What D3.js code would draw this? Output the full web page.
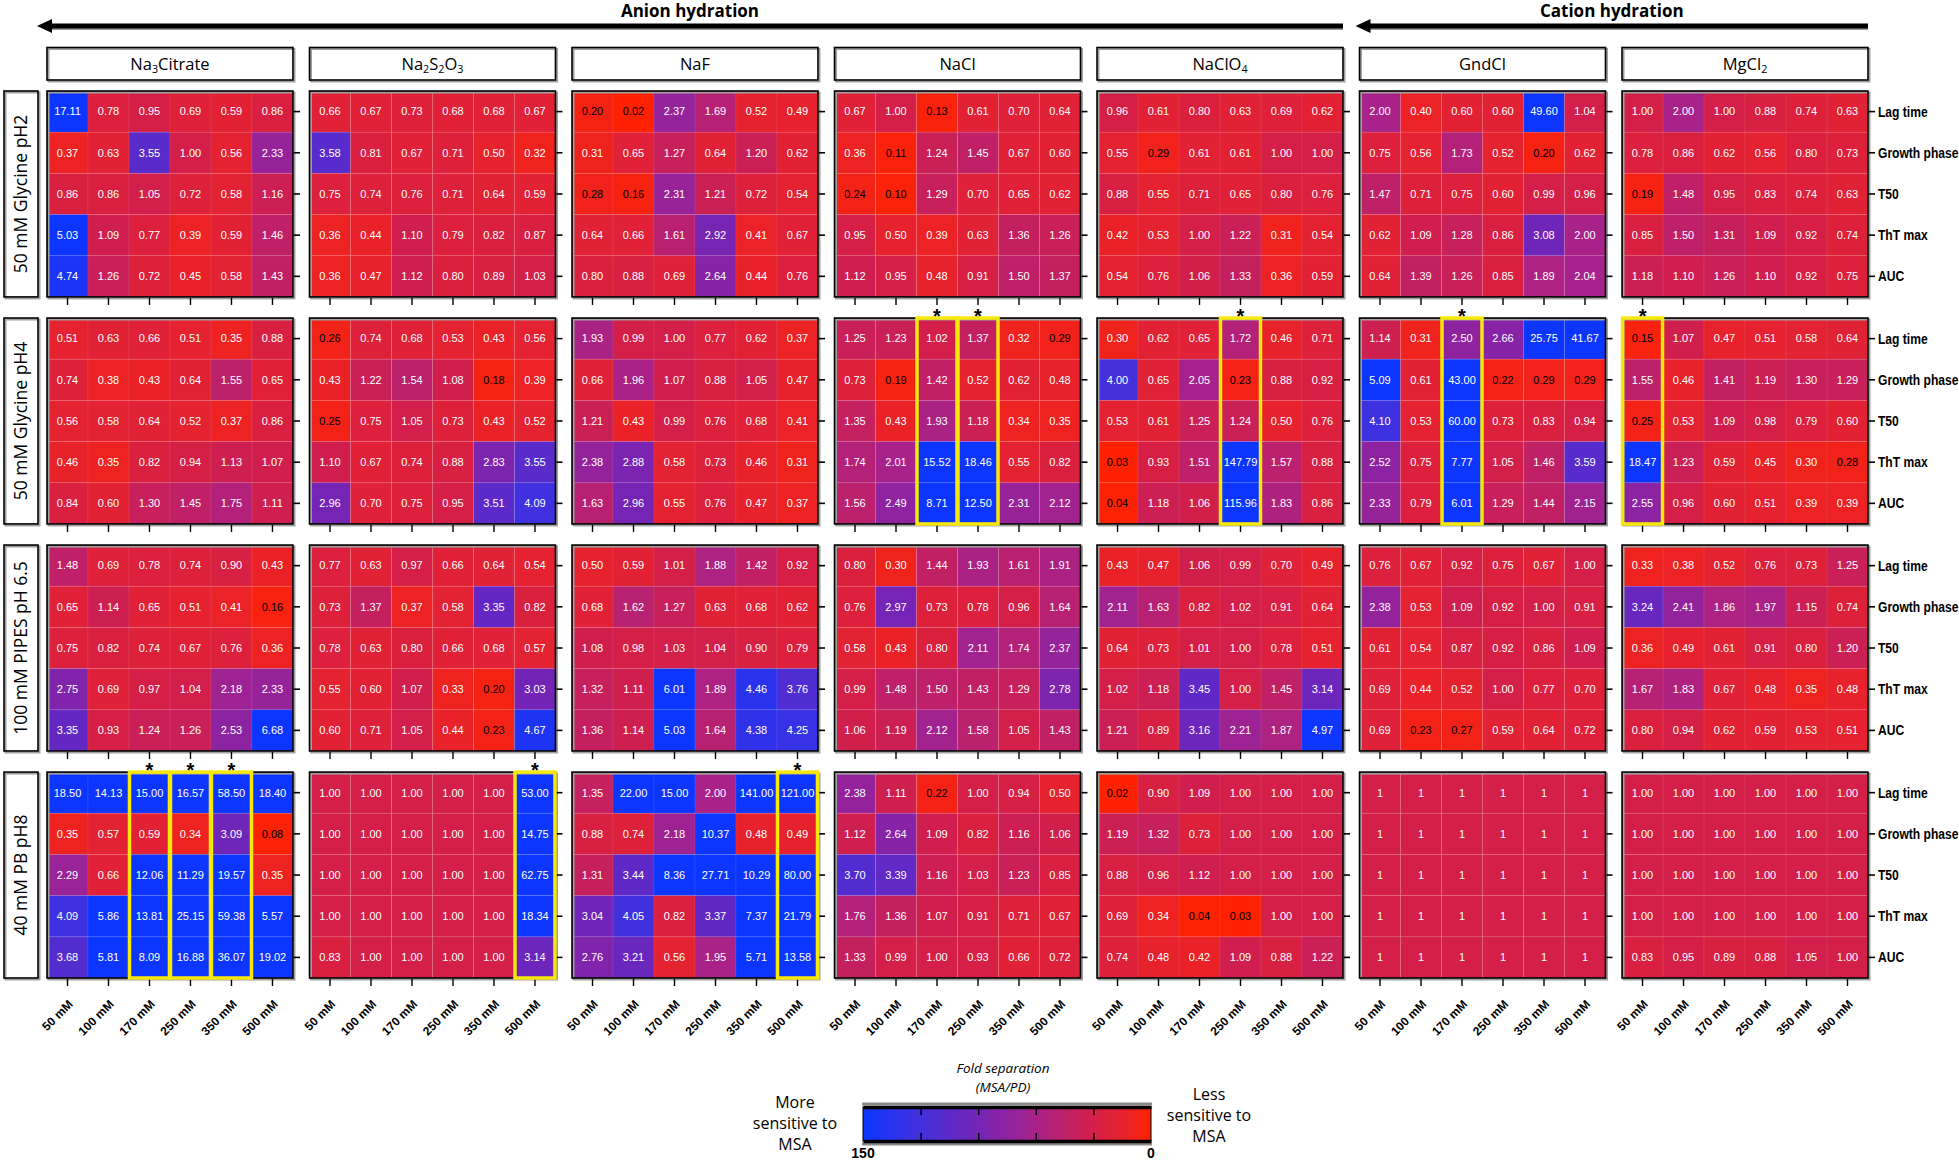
<!DOCTYPE html>
<html>
<head>
	<meta charset="utf-8">
	<title>Fold separation heatmaps</title>
	<script src="https://cdn.jsdelivr.net/npm/d3@7"></script>
	<style>
		body { margin: 0; background: #fff; }
	</style>
</head>
<body>
<script type="text/javascript">

	/*------ data ------*/

	var conditions = ["50 mM Glycine pH2", "50 mM Glycine pH4", "100 mM PIPES pH 6.5", "40 mM PB pH8"];
	var salts = ["Na3Citrate", "Na2S2O3", "NaF", "NaCl", "NaClO4", "GndCl", "MgCl2"];
	var metrics = ["Lag time", "Growth phase", "T50", "ThT max", "AUC"];
	var concentrations = ["50 mM", "100 mM", "170 mM", "250 mM", "350 mM", "500 mM"];

	// one block per salt, rows = metrics, columns = concentrations
	var glycinePH2 = [
		[[17.11, 0.78, 0.95, 0.69, 0.59, 0.86], [0.37, 0.63, 3.55, 1.00, 0.56, 2.33], [0.86, 0.86, 1.05, 0.72, 0.58, 1.16], [5.03, 1.09, 0.77, 0.39, 0.59, 1.46], [4.74, 1.26, 0.72, 0.45, 0.58, 1.43]],
		[[0.66, 0.67, 0.73, 0.68, 0.68, 0.67], [3.58, 0.81, 0.67, 0.71, 0.50, 0.32], [0.75, 0.74, 0.76, 0.71, 0.64, 0.59], [0.36, 0.44, 1.10, 0.79, 0.82, 0.87], [0.36, 0.47, 1.12, 0.80, 0.89, 1.03]],
		[[0.20, 0.02, 2.37, 1.69, 0.52, 0.49], [0.31, 0.65, 1.27, 0.64, 1.20, 0.62], [0.28, 0.16, 2.31, 1.21, 0.72, 0.54], [0.64, 0.66, 1.61, 2.92, 0.41, 0.67], [0.80, 0.88, 0.69, 2.64, 0.44, 0.76]],
		[[0.67, 1.00, 0.13, 0.61, 0.70, 0.64], [0.36, 0.11, 1.24, 1.45, 0.67, 0.60], [0.24, 0.10, 1.29, 0.70, 0.65, 0.62], [0.95, 0.50, 0.39, 0.63, 1.36, 1.26], [1.12, 0.95, 0.48, 0.91, 1.50, 1.37]],
		[[0.96, 0.61, 0.80, 0.63, 0.69, 0.62], [0.55, 0.29, 0.61, 0.61, 1.00, 1.00], [0.88, 0.55, 0.71, 0.65, 0.80, 0.76], [0.42, 0.53, 1.00, 1.22, 0.31, 0.54], [0.54, 0.76, 1.06, 1.33, 0.36, 0.59]],
		[[2.00, 0.40, 0.60, 0.60, 49.60, 1.04], [0.75, 0.56, 1.73, 0.52, 0.20, 0.62], [1.47, 0.71, 0.75, 0.60, 0.99, 0.96], [0.62, 1.09, 1.28, 0.86, 3.08, 2.00], [0.64, 1.39, 1.26, 0.85, 1.89, 2.04]],
		[[1.00, 2.00, 1.00, 0.88, 0.74, 0.63], [0.78, 0.86, 0.62, 0.56, 0.80, 0.73], [0.19, 1.48, 0.95, 0.83, 0.74, 0.63], [0.85, 1.50, 1.31, 1.09, 0.92, 0.74], [1.18, 1.10, 1.26, 1.10, 0.92, 0.75]]
	];

	var glycinePH4 = [
		[[0.51, 0.63, 0.66, 0.51, 0.35, 0.88], [0.74, 0.38, 0.43, 0.64, 1.55, 0.65], [0.56, 0.58, 0.64, 0.52, 0.37, 0.86], [0.46, 0.35, 0.82, 0.94, 1.13, 1.07], [0.84, 0.60, 1.30, 1.45, 1.75, 1.11]],
		[[0.26, 0.74, 0.68, 0.53, 0.43, 0.56], [0.43, 1.22, 1.54, 1.08, 0.18, 0.39], [0.25, 0.75, 1.05, 0.73, 0.43, 0.52], [1.10, 0.67, 0.74, 0.88, 2.83, 3.55], [2.96, 0.70, 0.75, 0.95, 3.51, 4.09]],
		[[1.93, 0.99, 1.00, 0.77, 0.62, 0.37], [0.66, 1.96, 1.07, 0.88, 1.05, 0.47], [1.21, 0.43, 0.99, 0.76, 0.68, 0.41], [2.38, 2.88, 0.58, 0.73, 0.46, 0.31], [1.63, 2.96, 0.55, 0.76, 0.47, 0.37]],
		[[1.25, 1.23, 1.02, 1.37, 0.32, 0.29], [0.73, 0.19, 1.42, 0.52, 0.62, 0.48], [1.35, 0.43, 1.93, 1.18, 0.34, 0.35], [1.74, 2.01, 15.52, 18.46, 0.55, 0.82], [1.56, 2.49, 8.71, 12.50, 2.31, 2.12]],
		[[0.30, 0.62, 0.65, 1.72, 0.46, 0.71], [4.00, 0.65, 2.05, 0.23, 0.88, 0.92], [0.53, 0.61, 1.25, 1.24, 0.50, 0.76], [0.03, 0.93, 1.51, 147.79, 1.57, 0.88], [0.04, 1.18, 1.06, 115.96, 1.83, 0.86]],
		[[1.14, 0.31, 2.50, 2.66, 25.75, 41.67], [5.09, 0.61, 43.00, 0.22, 0.29, 0.29], [4.10, 0.53, 60.00, 0.73, 0.83, 0.94], [2.52, 0.75, 7.77, 1.05, 1.46, 3.59], [2.33, 0.79, 6.01, 1.29, 1.44, 2.15]],
		[[0.15, 1.07, 0.47, 0.51, 0.58, 0.64], [1.55, 0.46, 1.41, 1.19, 1.30, 1.29], [0.25, 0.53, 1.09, 0.98, 0.79, 0.60], [18.47, 1.23, 0.59, 0.45, 0.30, 0.28], [2.55, 0.96, 0.60, 0.51, 0.39, 0.39]]
	];

	var pipesPH65 = [
		[[1.48, 0.69, 0.78, 0.74, 0.90, 0.43], [0.65, 1.14, 0.65, 0.51, 0.41, 0.16], [0.75, 0.82, 0.74, 0.67, 0.76, 0.36], [2.75, 0.69, 0.97, 1.04, 2.18, 2.33], [3.35, 0.93, 1.24, 1.26, 2.53, 6.68]],
		[[0.77, 0.63, 0.97, 0.66, 0.64, 0.54], [0.73, 1.37, 0.37, 0.58, 3.35, 0.82], [0.78, 0.63, 0.80, 0.66, 0.68, 0.57], [0.55, 0.60, 1.07, 0.33, 0.20, 3.03], [0.60, 0.71, 1.05, 0.44, 0.23, 4.67]],
		[[0.50, 0.59, 1.01, 1.88, 1.42, 0.92], [0.68, 1.62, 1.27, 0.63, 0.68, 0.62], [1.08, 0.98, 1.03, 1.04, 0.90, 0.79], [1.32, 1.11, 6.01, 1.89, 4.46, 3.76], [1.36, 1.14, 5.03, 1.64, 4.38, 4.25]],
		[[0.80, 0.30, 1.44, 1.93, 1.61, 1.91], [0.76, 2.97, 0.73, 0.78, 0.96, 1.64], [0.58, 0.43, 0.80, 2.11, 1.74, 2.37], [0.99, 1.48, 1.50, 1.43, 1.29, 2.78], [1.06, 1.19, 2.12, 1.58, 1.05, 1.43]],
		[[0.43, 0.47, 1.06, 0.99, 0.70, 0.49], [2.11, 1.63, 0.82, 1.02, 0.91, 0.64], [0.64, 0.73, 1.01, 1.00, 0.78, 0.51], [1.02, 1.18, 3.45, 1.00, 1.45, 3.14], [1.21, 0.89, 3.16, 2.21, 1.87, 4.97]],
		[[0.76, 0.67, 0.92, 0.75, 0.67, 1.00], [2.38, 0.53, 1.09, 0.92, 1.00, 0.91], [0.61, 0.54, 0.87, 0.92, 0.86, 1.09], [0.69, 0.44, 0.52, 1.00, 0.77, 0.70], [0.69, 0.23, 0.27, 0.59, 0.64, 0.72]],
		[[0.33, 0.38, 0.52, 0.76, 0.73, 1.25], [3.24, 2.41, 1.86, 1.97, 1.15, 0.74], [0.36, 0.49, 0.61, 0.91, 0.80, 1.20], [1.67, 1.83, 0.67, 0.48, 0.35, 0.48], [0.80, 0.94, 0.62, 0.59, 0.53, 0.51]]
	];

	var pbPH8 = [
		[[18.50, 14.13, 15.00, 16.57, 58.50, 18.40], [0.35, 0.57, 0.59, 0.34, 3.09, 0.08], [2.29, 0.66, 12.06, 11.29, 19.57, 0.35], [4.09, 5.86, 13.81, 25.15, 59.38, 5.57], [3.68, 5.81, 8.09, 16.88, 36.07, 19.02]],
		[[1.00, 1.00, 1.00, 1.00, 1.00, 53.00], [1.00, 1.00, 1.00, 1.00, 1.00, 14.75], [1.00, 1.00, 1.00, 1.00, 1.00, 62.75], [1.00, 1.00, 1.00, 1.00, 1.00, 18.34], [0.83, 1.00, 1.00, 1.00, 1.00, 3.14]],
		[[1.35, 22.00, 15.00, 2.00, 141.00, 121.00], [0.88, 0.74, 2.18, 10.37, 0.48, 0.49], [1.31, 3.44, 8.36, 27.71, 10.29, 80.00], [3.04, 4.05, 0.82, 3.37, 7.37, 21.79], [2.76, 3.21, 0.56, 1.95, 5.71, 13.58]],
		[[2.38, 1.11, 0.22, 1.00, 0.94, 0.50], [1.12, 2.64, 1.09, 0.82, 1.16, 1.06], [3.70, 3.39, 1.16, 1.03, 1.23, 0.85], [1.76, 1.36, 1.07, 0.91, 0.71, 0.67], [1.33, 0.99, 1.00, 0.93, 0.66, 0.72]],
		[[0.02, 0.90, 1.09, 1.00, 1.00, 1.00], [1.19, 1.32, 0.73, 1.00, 1.00, 1.00], [0.88, 0.96, 1.12, 1.00, 1.00, 1.00], [0.69, 0.34, 0.04, 0.03, 1.00, 1.00], [0.74, 0.48, 0.42, 1.09, 0.88, 1.22]],
		[[1, 1, 1, 1, 1, 1], [1, 1, 1, 1, 1, 1], [1, 1, 1, 1, 1, 1], [1, 1, 1, 1, 1, 1], [1, 1, 1, 1, 1, 1]],
		[[1.00, 1.00, 1.00, 1.00, 1.00, 1.00], [1.00, 1.00, 1.00, 1.00, 1.00, 1.00], [1.00, 1.00, 1.00, 1.00, 1.00, 1.00], [1.00, 1.00, 1.00, 1.00, 1.00, 1.00], [0.83, 0.95, 0.89, 0.88, 1.05, 1.00]]
	];

	// panels printed as plain integers
	var integerPanels = [["40 mM PB pH8", "GndCl"]];

	// yellow boxed columns (with an asterisk on top)
	var highlightCells = [
		["50 mM Glycine pH4", "NaCl", "170 mM"],
		["50 mM Glycine pH4", "NaCl", "250 mM"],
		["50 mM Glycine pH4", "NaClO4", "250 mM"],
		["50 mM Glycine pH4", "GndCl", "170 mM"],
		["50 mM Glycine pH4", "MgCl2", "50 mM"],
		["40 mM PB pH8", "Na3Citrate", "170 mM"],
		["40 mM PB pH8", "Na3Citrate", "250 mM"],
		["40 mM PB pH8", "Na3Citrate", "350 mM"],
		["40 mM PB pH8", "Na2S2O3", "500 mM"],
		["40 mM PB pH8", "NaF", "500 mM"]
	];

	var groupTitles = ["Anion hydration", "Cation hydration"];
	var legendTicks = [150, 120, 90, 60, 30, 0];

	/*------ layout ------*/

	var svgWidth = 1959;
	var svgHeight = 1160;
	var valueSets = [glycinePH2, glycinePH4, pipesPH65, pbPH8];

	var sans = "'Liberation Sans', Arial, sans-serif";
	var humanist = "'Open Sans', 'Noto Sans', sans-serif";
	var squeeze = 0.78;   // stands in for the narrow bold face of the row labels

	var color = d3.scaleLinear()
		.domain([0, 0.5, 1, 2, 3, 4, 5])
		.range(["#ff2200", "#e6222f", "#d41f48", "#a8228a", "#7424b6", "#4430dc", "#0c36ff"])
		.clamp(true);

	var panelX = d3.scaleBand().domain(salts).range([47, 1868]).paddingInner(0.063);
	var panelY = d3.scaleBand().domain(conditions).range([91, 978]).paddingInner(0.093);
	var bw = panelX.bandwidth();
	var bh = panelY.bandwidth();

	var svg = d3.select('body')
		.append('svg')
		.attr('width', svgWidth)
		.attr('height', svgHeight)
		.style('font-family', sans);

	function shadowBox(g, x, y, w, h) {
		g.append('rect')
			.attr('x', x + 1.5).attr('y', y + 1.5)
			.attr('width', w).attr('height', h)
			.attr('fill', 'none').attr('stroke', '#a0a0a0').attr('stroke-width', 2);
		g.append('rect')
			.attr('x', x).attr('y', y)
			.attr('width', w).attr('height', h)
			.attr('fill', 'none').attr('stroke', '#000').attr('stroke-width', 1.6);
	}

	function subscriptText(sel, label) {
		label.split(/(\d+)/).forEach(function (part, i) {
			if (part === '') return;
			var t = sel.append('tspan').text(part);
			if (i % 2 === 1) {
				t.attr('font-size', '0.65em').attr('baseline-shift', '-0.3em');
			}
		});
	}

	/*------ top arrows and group titles ------*/

	var arrowSpans = [
		[panelX(salts[0]) - 10, panelX(salts[4]) + bw],
		[panelX(salts[5]) - 4, panelX(salts[6]) + bw]
	];

	arrowSpans.forEach(function (span, i) {
		var g = svg.append('g');
		g.append('line')
			.attr('x1', span[0] + 10).attr('x2', span[1])
			.attr('y1', 29).attr('y2', 29)
			.attr('stroke', '#9a9a9a').attr('stroke-width', 2);
		g.append('line')
			.attr('x1', span[0] + 10).attr('x2', span[1])
			.attr('y1', 26).attr('y2', 26)
			.attr('stroke', '#000').attr('stroke-width', 5);
		g.append('path')
			.attr('d', 'M' + span[0] + ',26 L' + (span[0] + 15) + ',19 L' + (span[0] + 15) + ',33 Z')
			.attr('fill', '#000');
		g.append('text')
			.attr('x', (span[0] + span[1]) / 2)
			.attr('y', 17)
			.attr('text-anchor', 'middle')
			.attr('font-family', humanist)
			.attr('font-weight', 'bold')
			.attr('font-size', 17)
			.text(groupTitles[i]);
	});

	/*------ salt headers ------*/

	salts.forEach(function (s) {
		var g = svg.append('g');
		shadowBox(g, panelX(s), 47.5, bw, 32.5);
		var t = g.append('text')
			.attr('x', panelX(s) + bw / 2)
			.attr('y', 69.5)
			.attr('text-anchor', 'middle')
			.attr('font-family', humanist)
			.attr('font-size', 16.5);
		subscriptText(t, s);
	});

	/*------ condition labels ------*/

	conditions.forEach(function (c) {
		var g = svg.append('g');
		shadowBox(g, 4, panelY(c), 34, bh);
		g.append('text')
			.attr('transform', 'translate(' + 27 + ',' + (panelY(c) + bh / 2) + ') rotate(-90)')
			.attr('text-anchor', 'middle')
			.attr('font-family', humanist)
			.attr('font-size', 17.5)
			.text(c);
	});

	/*------ heatmap panels ------*/

	function isInteger(c, s) {
		return integerPanels.some(function (p) { return p[0] === c && p[1] === s; });
	}

	conditions.forEach(function (c, ci) {
		salts.forEach(function (s, si) {
			var x0 = panelX(s), y0 = panelY(c);
			var x = d3.scaleBand().domain(concentrations).range([x0, x0 + bw]);
			var y = d3.scaleBand().domain(metrics).range([y0, y0 + bh]);
			var fmt = isInteger(c, s) ? d3.format('d') : d3.format('.2f');

			var cells = [];
			valueSets[ci][si].forEach(function (row, mi) {
				row.forEach(function (v, ki) {
					cells.push({ metric: metrics[mi], conc: concentrations[ki], value: v });
				});
			});

			var g = svg.append('g');

			g.selectAll('rect.cell')
				.data(cells)
				.enter()
				.append('rect')
				.attr('class', 'cell')
				.attr('x', function (d) { return x(d.conc); })
				.attr('y', function (d) { return y(d.metric); })
				.attr('width', x.bandwidth())
				.attr('height', y.bandwidth())
				.attr('fill', function (d) { return color(d.value); })
				.attr('stroke', 'rgba(255,255,255,0.07)')
				.attr('stroke-width', 1);

			g.selectAll('text.val')
				.data(cells)
				.enter()
				.append('text')
				.attr('class', 'val')
				.attr('x', function (d) { return x(d.conc) + x.bandwidth() / 2; })
				.attr('y', function (d) { return y(d.metric) + y.bandwidth() / 2; })
				.attr('dy', '0.35em')
				.attr('text-anchor', 'middle')
				.attr('font-size', 11)
				.attr('fill', function (d) { return d.value < 0.295 ? '#000' : '#fff'; })
				.text(function (d) { return fmt(d.value); });

			shadowBox(g, x0, y0, bw, bh);

			// right ticks (labels on the last panel only)
			var ay = g.append('g')
				.attr('transform', 'translate(' + (x0 + bw + 1) + ',0)')
				.call(d3.axisRight(y).tickSize(6).tickSizeOuter(0)
					.tickFormat(si === salts.length - 1 ? null : ''));
			ay.select('.domain').remove();
			ay.selectAll('line').attr('stroke-width', 1.6);
			ay.selectAll('text')
				.attr('x', 9 / squeeze)
				.attr('transform', 'scale(' + squeeze + ',1)')
				.attr('font-family', sans)
				.attr('font-weight', 'bold')
				.attr('font-size', 15.5)
				.attr('fill', '#000');

			// bottom ticks (labels on the last row only)
			var ax = g.append('g')
				.attr('transform', 'translate(0,' + (y0 + bh + 1) + ')')
				.call(d3.axisBottom(x).tickSize(7).tickSizeOuter(0)
					.tickFormat(ci === conditions.length - 1 ? null : ''));
			ax.select('.domain').remove();
			ax.selectAll('line').attr('stroke-width', 1.4);
			ax.selectAll('text')
				.attr('x', 0).attr('y', 0).attr('dy', 0)
				.attr('transform', 'translate(6,26) rotate(-45)')
				.style('text-anchor', 'end')
				.attr('font-family', sans)
				.attr('font-weight', 'bold')
				.attr('font-size', 12)
				.attr('fill', '#000');
		});
	});

	/*------ highlighted columns ------*/

	highlightCells.forEach(function (h) {
		var x0 = panelX(h[1]), y0 = panelY(h[0]);
		var x = d3.scaleBand().domain(concentrations).range([x0, x0 + bw]);
		svg.append('rect')
			.attr('x', x(h[2]) + 0.5)
			.attr('y', y0)
			.attr('width', x.bandwidth() - 1)
			.attr('height', bh)
			.attr('fill', 'none')
			.attr('stroke', '#f7e80c')
			.attr('stroke-width', 3.5);
		svg.append('text')
			.attr('x', x(h[2]) + x.bandwidth() / 2)
			.attr('y', y0 + 5)
			.attr('text-anchor', 'middle')
			.attr('font-family', sans)
			.attr('font-weight', 'bold')
			.attr('font-size', 20)
			.text('*');
	});

	/*------ legend ------*/

	var legendScale = d3.scaleLinear().domain([150, 0]).range([863, 1151]);
	var legTop = 1107, legH = 34;

	var grad = svg.append('defs').append('linearGradient')
		.attr('id', 'legendGrad')
		.attr('x1', '0%').attr('x2', '100%');
	d3.range(0, 1.0001, 0.05).forEach(function (t) {
		grad.append('stop')
			.attr('offset', (t * 100) + '%')
			.attr('stop-color', color(5 * (1 - t)));
	});

	var leg = svg.append('g');
	leg.append('rect')
		.attr('x', legendScale(150)).attr('y', legTop)
		.attr('width', legendScale(0) - legendScale(150)).attr('height', legH)
		.attr('fill', 'url(#legendGrad)')
		.attr('stroke', '#000').attr('stroke-width', 1);

	[['top', legTop], ['bottom', legTop + legH]].forEach(function (p) {
		leg.append('line')
			.attr('x1', legendScale(150) - 1).attr('x2', legendScale(0) + 1)
			.attr('y1', p[1] + (p[0] === 'top' ? -3 : 3)).attr('y2', p[1] + (p[0] === 'top' ? -3 : 3))
			.attr('stroke', '#8a8a8a').attr('stroke-width', 3);
		var axis = (p[0] === 'top' ? d3.axisTop(legendScale) : d3.axisBottom(legendScale))
			.tickValues(legendTicks.slice(1, -1))
			.tickSize(-8).tickSizeOuter(0).tickFormat('');
		var a = leg.append('g')
			.attr('transform', 'translate(0,' + p[1] + ')')
			.call(axis);
		a.select('.domain').attr('stroke-width', 3.5);
		a.selectAll('line').attr('stroke-width', 1.5);
	});

	[legendTicks[0], legendTicks[legendTicks.length - 1]].forEach(function (v) {
		leg.append('text')
			.attr('x', legendScale(v))
			.attr('y', 1158)
			.attr('text-anchor', 'middle')
			.attr('font-weight', 'bold')
			.attr('font-size', 14)
			.text(v);
	});

	leg.append('text')
		.attr('x', 1003).attr('y', 1073)
		.attr('text-anchor', 'middle')
		.attr('font-family', humanist)
		.attr('font-style', 'italic')
		.attr('font-size', 13.5)
		.text('Fold separation');
	leg.append('text')
		.attr('x', 1003).attr('y', 1092)
		.attr('text-anchor', 'middle')
		.attr('font-family', humanist)
		.attr('font-style', 'italic')
		.attr('font-size', 13.5)
		.text('(MSA/PD)');

	[['More', 'sensitive to', 'MSA', 795, 1108], ['Less', 'sensitive to', 'MSA', 1209, 1100]].forEach(function (l) {
		[0, 1, 2].forEach(function (k) {
			leg.append('text')
				.attr('x', l[3])
				.attr('y', l[4] + k * 21)
				.attr('text-anchor', 'middle')
				.attr('font-family', humanist)
				.attr('font-size', 16)
				.text(l[k]);
		});
	});

</script>
</body>
</html>
